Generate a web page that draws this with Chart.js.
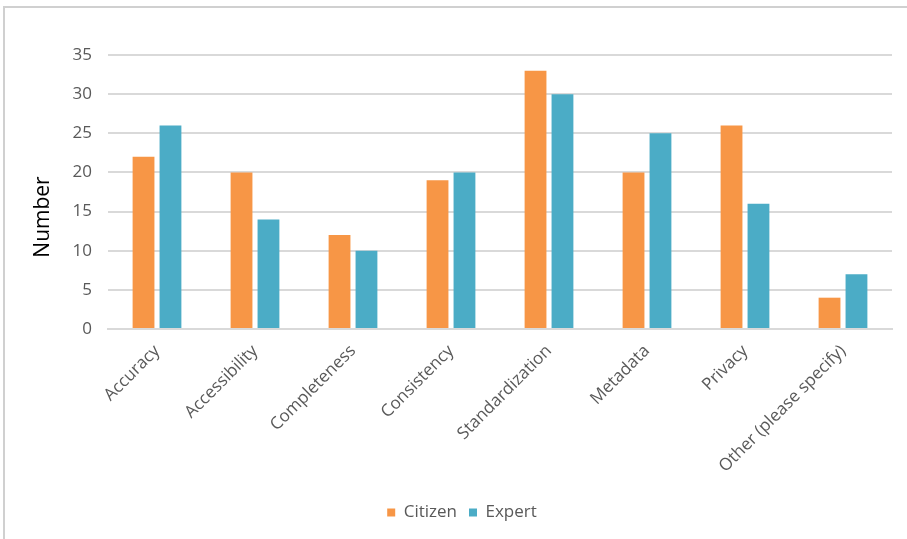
<!DOCTYPE html>
<html>
<head>
    <title>Data Quality Concerns</title>
    <script src='https://cdn.jsdelivr.net/npm/chart.js'></script>
    <style>
        body {
            margin: 0;
            background: #fff;
        }
        #frame {
            position: absolute;
            left: 3px;
            top: 6px;
            width: 904px;
            height: 533px;
            border-left: 2px solid #d0d0d0;
            border-top: 2px solid #d0d0d0;
            box-sizing: border-box;
        }
        #chartCanvas {
            position: absolute;
            left: 0;
            top: 0;
        }
    </style>
</head>
<body>
    <div id="frame"></div>
    <canvas id="chartCanvas" width="907" height="539"></canvas>

    <script>
        const categories = ['Accuracy', 'Accessibility', 'Completeness', 'Consistency',
            'Standardization', 'Metadata', 'Privacy', 'Other (please specify)'];
        const citizen = [22, 20, 12, 19, 33, 20, 26, 4];
        const expert = [26, 14, 10, 20, 30, 25, 16, 7];
        const yTicks = [0, 5, 10, 15, 20, 25, 30, 35];
        const yTitle = 'Number';

        const textColor = '#595959';
        const gridColor = '#d9d9d9';
        const fontFamily = "'Open Sans', sans-serif";

        // axis title sits a little below the middle of the plot, so draw it by hand
        const yTitlePlugin = {
            id: 'yTitle',
            afterDraw(chart) {
                const ctx = chart.ctx;
                const area = chart.chartArea;
                ctx.save();
                ctx.translate(43, area.bottom - 112);
                ctx.rotate(-Math.PI / 2);
                ctx.fillStyle = '#000';
                ctx.font = '21px ' + fontFamily;
                ctx.textAlign = 'center';
                ctx.textBaseline = 'middle';
                ctx.fillText(yTitle, 0, 0);
                ctx.restore();
            }
        };

        new Chart(document.getElementById('chartCanvas').getContext('2d'), {
            type: 'bar',
            data: {
                labels: categories,
                datasets: [{
                    label: 'Citizen',
                    data: citizen,
                    backgroundColor: '#f79646',
                    categoryPercentage: 0.55,
                    barPercentage: 0.81
                }, {
                    label: 'Expert',
                    data: expert,
                    backgroundColor: '#4bacc6',
                    categoryPercentage: 0.55,
                    barPercentage: 0.81
                }]
            },
            plugins: [yTitlePlugin],
            options: {
                responsive: false,
                animation: false,
                layout: {
                    padding: { top: 55, right: 15, left: 32, bottom: 8 }
                },
                plugins: {
                    tooltip: { enabled: false },
                    legend: {
                        position: 'bottom',
                        labels: {
                            boxWidth: 8,
                            boxHeight: 8,
                            color: textColor,
                            padding: 12,
                            font: { family: fontFamily, size: 17 }
                        }
                    }
                },
                scales: {
                    x: {
                        grid: { display: false, drawTicks: false },
                        border: { color: gridColor, width: 2 },
                        ticks: {
                            color: textColor,
                            minRotation: 45,
                            maxRotation: 45,
                            padding: 12,
                            font: { family: fontFamily, size: 17 }
                        },
                        afterFit: (scale) => { scale.height = 163; }
                    },
                    y: {
                        min: 0,
                        max: 35,
                        afterBuildTicks: (scale) => {
                            scale.ticks = yTicks.map(v => ({ value: v }));
                        },
                        grid: { color: gridColor, lineWidth: 2, drawTicks: false },
                        border: { display: false },
                        ticks: {
                            color: textColor,
                            padding: 16,
                            font: { family: fontFamily, size: 17 }
                        },
                        afterFit: (scale) => { scale.width = 76; }
                    }
                }
            }
        });
    </script>
</body>
</html>
